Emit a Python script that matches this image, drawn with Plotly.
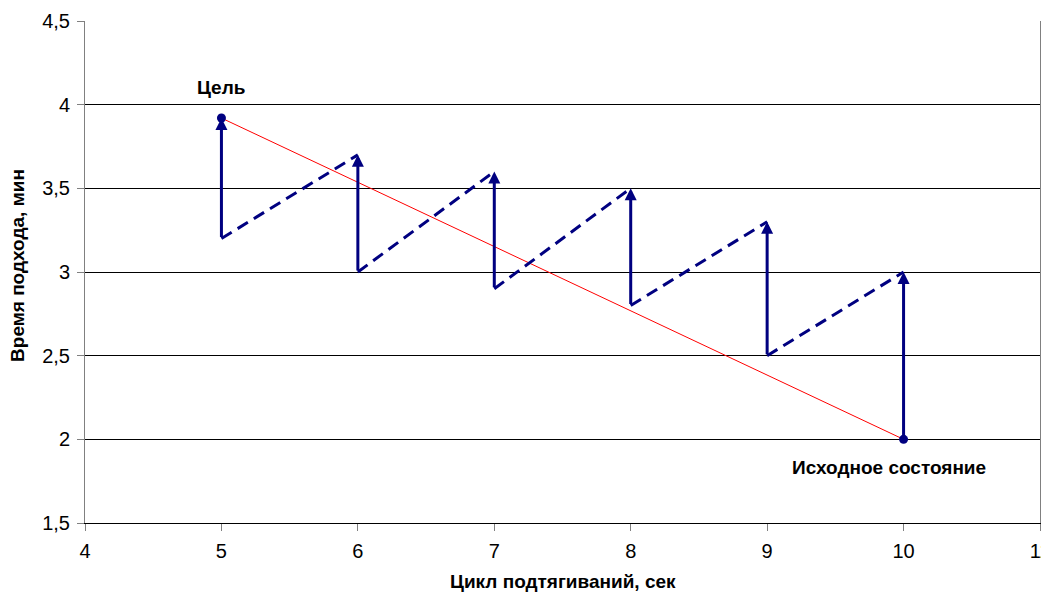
import plotly.graph_objects as go

# Data
cycle_x = [5, 6, 7, 8, 9, 10]
low_y = [3.2, 3.0, 2.9, 2.8, 2.5, 2.0]
high_y = [3.92, 3.7, 3.6, 3.5, 3.3, 3.0]
goal = (5, 3.92)
start = (10, 2.0)
goal_label = "Цель"
start_label = "Исходное состояние"
x_title = "Цикл подтягиваний, сек"
y_title = "Время подхода, мин"
x_ticks = [4, 5, 6, 7, 8, 9, 10, 11]
y_ticks = [1.5, 2, 2.5, 3, 3.5, 4, 4.5]

NAVY = "#000080"
FONT = "Liberation Sans, Arial, sans-serif"

fig = go.Figure()

# Red trend line goal -> start
fig.add_trace(go.Scatter(x=[goal[0], start[0]], y=[goal[1], start[1]], mode="lines",
                         line=dict(color="#FF0000", width=1), showlegend=False, hoverinfo="skip"))

# Dashed segments: low at cycle i -> high at cycle i+1
for i in range(len(cycle_x) - 1):
    fig.add_trace(go.Scatter(x=[cycle_x[i], cycle_x[i + 1]], y=[low_y[i], high_y[i + 1]],
                             mode="lines", line=dict(color=NAVY, width=3, dash="12px,7px"),
                             showlegend=False, hoverinfo="skip"))

# Markers
fig.add_trace(go.Scatter(x=[goal[0], start[0]], y=[goal[1], start[1]], mode="markers",
                         marker=dict(color=NAVY, size=9), showlegend=False, hoverinfo="skip"))

annotations = []
for xv, lo, hi in zip(cycle_x, low_y, high_y):
    annotations.append(dict(x=xv, y=hi, ax=xv, ay=lo, xref="x", yref="y", axref="x", ayref="y",
                            showarrow=True, arrowhead=2, arrowsize=0.8, arrowwidth=3,
                            arrowcolor=NAVY, text=""))

annotations.append(dict(x=goal[0], y=4.0, xref="x", yref="y", text="<b>" + goal_label + "</b>",
                        showarrow=False, yshift=17, font=dict(family=FONT, size=19, color="black")))
annotations.append(dict(x=start[0], y=start[1], xref="x", yref="y", text="<b>" + start_label + "</b>",
                        showarrow=False, yshift=-28, xshift=-15,
                        font=dict(family=FONT, size=19, color="black")))
# Axis titles
annotations.append(dict(x=0.5, y=-0.1175, xref="paper", yref="paper", text="<b>" + x_title + "</b>",
                        showarrow=False, xanchor="center", yanchor="middle",
                        font=dict(family=FONT, size=19, color="black")))
annotations.append(dict(x=-0.0702, y=0.514, xref="paper", yref="paper", text="<b>" + y_title + "</b>",
                        showarrow=False, xanchor="center", yanchor="middle", textangle=-90,
                        font=dict(family=FONT, size=19, color="black")))

fig.update_layout(
    width=1041, height=588,
    margin=dict(l=77, r=9, t=13, b=73),
    paper_bgcolor="white", plot_bgcolor="white",
    separators=", ",
    font=dict(family=FONT, size=20, color="black"),
    annotations=annotations,
    xaxis=dict(range=[4, 11], tickvals=x_ticks, showgrid=False, zeroline=False, automargin=False,
               showline=True, linecolor="black", linewidth=1, ticklabeloverflow="allow",
               ticks="outside", ticklen=7, tickcolor="#808080", ticklabelstandoff=3),
    yaxis=dict(range=[1.5, 4.5], tickvals=y_ticks, showgrid=True, gridcolor="black", gridwidth=1,
               zeroline=False, showline=True, linecolor="#808080", linewidth=1, mirror=True,
               automargin=False, ticklabelstandoff=3,
               ticks="outside", ticklen=7, tickcolor="#808080"),
)

fig.write_html("out.html")
